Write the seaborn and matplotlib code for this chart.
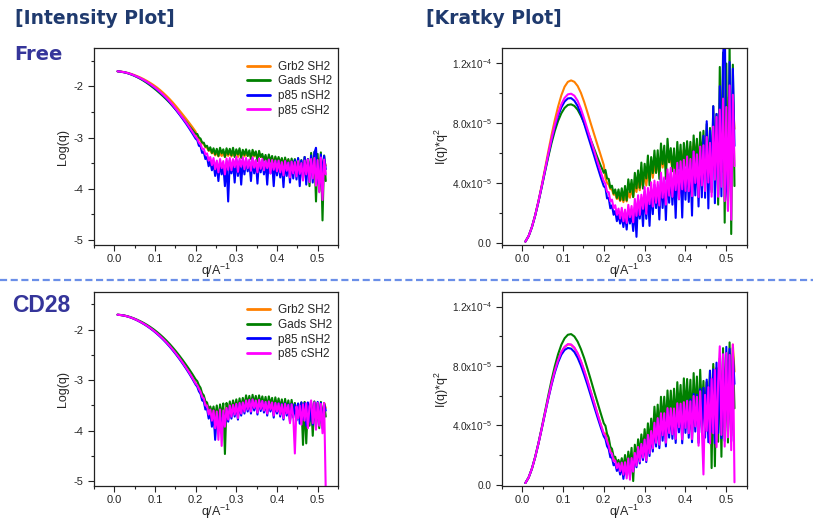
import numpy as np
import pandas as pd
import seaborn as sns
import matplotlib.pyplot as plt
from matplotlib.lines import Line2D
from matplotlib.ticker import MultipleLocator, FixedLocator, FixedFormatter

sns.set_style("ticks")
plt.rcParams['font.family'] = ['Liberation Sans', 'DejaVu Sans']
plt.rcParams['mathtext.fontset'] = 'custom'
plt.rcParams['mathtext.rm'] = 'Liberation Sans'
plt.rcParams['mathtext.it'] = 'Liberation Sans:italic'
plt.rcParams['mathtext.bf'] = 'Liberation Sans:bold'
plt.rcParams['mathtext.default'] = 'regular'
plt.rcParams['axes.unicode_minus'] = False

samples = ['Grb2 SH2', 'Gads SH2', 'p85 nSH2', 'p85 cSH2']
colors = ['#ff8000', '#008000', '#0000ff', '#ff00ff']

# q sampling (1/A): coarse on the smooth part, finer on the noisy tail
q_low = np.round(np.arange(0.008, 0.2001, 0.008), 3)
q_high = np.round(np.arange(0.204, 0.5201, 0.004), 3)
q = np.concatenate([q_low, q_high])

#  log10 I(q), free SH2 domains
free_grb2 = [-1.705, -1.711, -1.720, -1.734, -1.752, -1.774, -1.799, -1.826, -1.857, -1.892,
             -1.930, -1.971, -2.016, -2.067, -2.123, -2.183, -2.247, -2.316, -2.390, -2.468,
             -2.548, -2.628, -2.710, -2.795, -2.885,
             -2.98, -3.03, -3.06, -3.11, -3.13, -3.19, -3.20, -3.26, -3.25, -3.31,
             -3.28, -3.35, -3.29, -3.37, -3.30, -3.36, -3.29, -3.38, -3.30, -3.36,
             -3.29, -3.37, -3.30, -3.36, -3.28, -3.38, -3.30, -3.35, -3.29, -3.37,
             -3.30, -3.36, -3.31, -3.38, -3.30, -3.37, -3.32, -3.39, -3.31, -3.38,
             -3.37, -3.44, -3.38, -3.46, -3.37, -3.47, -3.39, -3.46, -3.40, -3.48,
             -3.41, -3.49, -3.42, -3.51, -3.42, -3.50, -3.44, -3.53, -3.45, -3.52,
             -3.46, -3.55, -3.47, -3.57, -3.48, -3.60, -3.47, -3.58, -3.49, -3.63,
             -3.40, -3.58, -3.42, -3.62, -3.41, -3.65, -3.38, -3.60, -3.44, -3.55]
free_gads = [-1.705, -1.713, -1.724, -1.740, -1.762, -1.788, -1.818, -1.852, -1.890, -1.932,
             -1.978, -2.027, -2.079, -2.134, -2.192, -2.253, -2.318, -2.388, -2.460, -2.535,
             -2.612, -2.690, -2.770, -2.850, -2.930,
             -2.93, -3.00, -3.02, -3.10, -3.10, -3.18, -3.16, -3.25, -3.19, -3.30,
             -3.21, -3.33, -3.22, -3.36, -3.20, -3.31, -3.23, -3.38, -3.21, -3.33,
             -3.22, -3.35, -3.20, -3.38, -3.23, -3.33, -3.21, -3.40, -3.24, -3.34,
             -3.23, -3.36, -3.25, -3.42, -3.24, -3.35, -3.27, -3.46, -3.26, -3.38,
             -3.32, -3.45, -3.34, -3.52, -3.33, -3.47, -3.36, -3.55, -3.37, -3.49,
             -3.38, -3.52, -3.40, -3.58, -3.39, -3.54, -3.42, -3.62, -3.41, -3.56,
             -3.42, -3.60, -3.41, -3.68, -3.44, -3.80, -3.38, -3.66, -3.42, -3.95,
             -3.30, -3.70, -3.28, -4.25, -3.32, -4.05, -3.29, -4.62, -3.35, -3.85]
free_p85n = [-1.705, -1.713, -1.723, -1.739, -1.760, -1.785, -1.813, -1.844, -1.879, -1.918,
             -1.961, -2.008, -2.059, -2.114, -2.173, -2.237, -2.306, -2.382, -2.463, -2.548,
             -2.634, -2.723, -2.818, -2.918, -3.022,
             -3.05, -3.16, -3.17, -3.30, -3.28, -3.42, -3.38, -3.56, -3.46, -3.64,
             -3.50, -3.75, -3.52, -3.85, -3.48, -3.72, -3.55, -3.95, -3.50, -4.25,
             -3.44, -3.70, -3.48, -3.88, -3.42, -3.75, -3.46, -3.92, -3.44, -3.72,
             -3.43, -3.66, -3.47, -3.85, -3.41, -3.70, -3.45, -3.90, -3.44, -3.68,
             -3.45, -3.72, -3.48, -3.92, -3.44, -3.70, -3.47, -3.95, -3.46, -3.74,
             -3.47, -3.78, -3.50, -3.97, -3.46, -3.75, -3.49, -3.88, -3.47, -3.80,
             -3.44, -3.82, -3.40, -3.95, -3.45, -3.78, -3.38, -3.92, -3.42, -3.85,
             -3.35, -3.88, -3.30, -3.20, -3.80, -3.95, -3.33, -3.75, -3.36, -3.62]
free_p85c = [-1.705, -1.712, -1.722, -1.737, -1.757, -1.781, -1.808, -1.838, -1.872, -1.910,
             -1.952, -1.998, -2.048, -2.102, -2.160, -2.222, -2.290, -2.365, -2.445, -2.528,
             -2.612, -2.698, -2.790, -2.885, -2.985,
             -3.02, -3.10, -3.12, -3.22, -3.22, -3.33, -3.31, -3.45, -3.38, -3.54,
             -3.40, -3.62, -3.45, -3.68, -3.42, -3.60, -3.46, -3.72, -3.41, -3.63,
             -3.40, -3.64, -3.42, -3.58, -3.38, -3.67, -3.41, -3.57, -3.39, -3.62,
             -3.40, -3.60, -3.43, -3.65, -3.39, -3.59, -3.44, -3.68, -3.41, -3.61,
             -3.42, -3.64, -3.45, -3.60, -3.43, -3.70, -3.44, -3.63, -3.45, -3.66,
             -3.45, -3.68, -3.48, -3.74, -3.46, -3.65, -3.49, -3.78, -3.47, -3.70,
             -3.48, -3.76, -3.46, -3.71, -3.50, -3.84, -3.45, -3.72, -3.43, -3.87,
             -3.42, -3.80, -3.40, -3.94, -3.44, -4.07, -3.39, -4.22, -3.43, -3.72]

#  log10 I(q), SH2 domains with CD28 peptide
cd28_grb2 = [-1.705, -1.712, -1.722, -1.738, -1.759, -1.784, -1.813, -1.846, -1.882, -1.922,
             -1.966, -2.014, -2.067, -2.123, -2.184, -2.250, -2.321, -2.397, -2.478, -2.563,
             -2.653, -2.747, -2.847, -2.953, -3.066,
             -3.08, -3.16, -3.21, -3.31, -3.34, -3.47, -3.48, -3.64, -3.55, -3.74,
             -3.57, -3.88, -3.58, -3.95, -3.55, -3.82, -3.56, -3.85, -3.52, -3.74,
             -3.47, -3.68, -3.46, -3.64, -3.44, -3.70, -3.42, -3.62, -3.41, -3.58,
             -3.37, -3.55, -3.36, -3.58, -3.35, -3.52, -3.37, -3.60, -3.36, -3.54,
             -3.38, -3.57, -3.40, -3.62, -3.39, -3.55, -3.41, -3.66, -3.42, -3.58,
             -3.43, -3.64, -3.45, -3.70, -3.44, -3.62, -3.46, -3.78, -3.45, -3.66,
             -3.48, -3.72, -3.47, -3.78, -3.45, -3.70, -3.44, -3.82, -3.46, -3.75,
             -3.46, -3.80, -3.45, -3.88, -3.47, -3.82, -3.46, -3.90, -3.45, -3.55]
cd28_gads = [-1.705, -1.711, -1.720, -1.735, -1.754, -1.777, -1.804, -1.834, -1.867, -1.904,
             -1.945, -1.990, -2.040, -2.094, -2.152, -2.215, -2.283, -2.356, -2.433, -2.515,
             -2.600, -2.690, -2.782, -2.880, -2.985,
             -3.02, -3.10, -3.15, -3.26, -3.30, -3.42, -3.44, -3.58, -3.52, -3.66,
             -3.52, -3.75, -3.50, -3.80, -3.48, -3.72, -3.46, -4.46, -3.45, -3.70,
             -3.42, -3.62, -3.40, -3.58, -3.38, -3.60, -3.36, -3.55, -3.35, -3.52,
             -3.30, -3.48, -3.31, -3.52, -3.29, -3.46, -3.31, -3.50, -3.30, -3.47,
             -3.32, -3.50, -3.33, -3.54, -3.32, -3.48, -3.35, -3.56, -3.34, -3.52,
             -3.36, -3.55, -3.38, -3.62, -3.37, -3.58, -3.40, -3.66, -3.39, -3.60,
             -3.45, -3.65, -3.47, -3.72, -3.44, -4.28, -3.43, -4.25, -3.46, -3.90,
             -3.44, -4.10, -3.42, -3.80, -3.45, -3.95, -3.43, -3.85, -3.46, -3.72]
cd28_p85n = [-1.705, -1.712, -1.723, -1.739, -1.760, -1.786, -1.816, -1.850, -1.887, -1.928,
             -1.973, -2.022, -2.076, -2.134, -2.196, -2.263, -2.335, -2.412, -2.494, -2.580,
             -2.671, -2.766, -2.867, -2.974, -3.088,
             -3.13, -3.22, -3.27, -3.40, -3.42, -3.58, -3.56, -3.76, -3.64, -3.92,
             -3.66, -4.18, -3.70, -3.98, -3.62, -4.05, -3.64, -3.90, -3.58, -3.82,
             -3.52, -3.76, -3.50, -3.72, -3.48, -3.78, -3.46, -3.70, -3.45, -3.66,
             -3.42, -3.62, -3.40, -3.66, -3.39, -3.60, -3.41, -3.68, -3.40, -3.61,
             -3.42, -3.64, -3.44, -3.70, -3.43, -3.62, -3.45, -3.74, -3.46, -3.66,
             -3.46, -3.72, -3.47, -3.78, -3.46, -3.70, -3.48, -3.82, -3.47, -3.74,
             -3.48, -3.80, -3.46, -3.86, -3.44, -3.78, -3.45, -3.90, -3.44, -3.82,
             -3.46, -3.88, -3.44, -3.92, -3.43, -3.85, -3.45, -3.95, -3.48, -3.60]
cd28_p85c = [-1.705, -1.712, -1.722, -1.738, -1.758, -1.783, -1.812, -1.845, -1.881, -1.921,
             -1.965, -2.013, -2.066, -2.122, -2.183, -2.249, -2.320, -2.396, -2.477, -2.562,
             -2.652, -2.746, -2.846, -2.952, -3.065,
             -3.10, -3.17, -3.23, -3.33, -3.36, -3.50, -3.50, -3.68, -3.58, -3.80,
             -3.60, -3.95, -3.62, -4.18, -3.58, -4.30, -3.60, -3.92, -3.55, -3.78,
             -3.50, -3.72, -3.49, -3.68, -3.47, -3.75, -3.45, -3.66, -3.44, -3.62,
             -3.40, -3.58, -3.39, -3.62, -3.38, -3.55, -3.40, -3.64, -3.39, -3.57,
             -3.41, -3.60, -3.43, -3.66, -3.42, -3.58, -3.44, -3.70, -3.45, -3.62,
             -3.46, -3.68, -3.48, -3.75, -3.47, -3.66, -3.49, -3.85, -3.48, -3.70,
             -4.45, -3.52, -3.75, -3.50, -3.88, -3.48, -3.80, -3.46, -3.95, -3.52,
             -3.40, -3.85, -3.44, -3.98, -3.45, -3.90, -3.47, -4.05, -3.45, -5.20]


def make_frame(series):
    parts = []
    for name, vals in zip(samples, series):
        assert len(vals) == len(q), (name, len(vals))
        parts.append(pd.DataFrame({'q': q, 'logI': vals, 'sample': name}))
    df = pd.concat(parts, ignore_index=True)
    df['kratky'] = 10 ** df['logI'] * df['q'] ** 2
    return df


free_df = make_frame([free_grb2, free_gads, free_p85n, free_p85c])
cd28_df = make_frame([cd28_grb2, cd28_gads, cd28_p85n, cd28_p85c])

fig = plt.figure(figsize=(8.13, 5.21), dpi=100)

bottoms = [0.5298, 0.0665]
heights = [0.378, 0.3736]
kr_ticks = [0, 4e-5, 8e-5, 1.2e-4]
kr_labels = ['0.0', '4.0x10$^{-5}$', '8.0x10$^{-5}$', '1.2x10$^{-4}$']

for row, df in enumerate([free_df, cd28_df]):
    ax_i = fig.add_axes([0.1156, bottoms[row], 0.3001, heights[row]])
    ax_k = fig.add_axes([0.6171, bottoms[row], 0.3014, heights[row]])

    sns.lineplot(data=df, x='q', y='logI', hue='sample', hue_order=samples,
                 palette=colors, estimator=None, sort=False, lw=1.5,
                 legend=False, ax=ax_i)
    sns.lineplot(data=df, x='q', y='kratky', hue='sample', hue_order=samples,
                 palette=colors, estimator=None, sort=False, lw=1.5,
                 legend=False, ax=ax_k)

    ax_i.set_ylim(-5.1, -1.25)
    ax_i.yaxis.set_major_locator(MultipleLocator(1))
    ax_i.yaxis.set_minor_locator(MultipleLocator(0.5))
    ax_i.set_ylabel('Log(q)', fontsize=9, labelpad=3)

    ax_k.set_ylim(-1e-6, 1.3e-4)
    ax_k.yaxis.set_major_locator(FixedLocator(kr_ticks))
    ax_k.yaxis.set_major_formatter(FixedFormatter(kr_labels))
    ax_k.yaxis.set_minor_locator(MultipleLocator(2e-5))
    ax_k.set_ylabel('I(q)*q$^2$', fontsize=9, labelpad=1)

    for ax in (ax_i, ax_k):
        ax.set_xlim(-0.05, 0.55)
        ax.xaxis.set_major_locator(MultipleLocator(0.1))
        ax.xaxis.set_minor_locator(MultipleLocator(0.05))
        ax.tick_params(which='both', direction='out', top=False, right=False,
                       labelsize=8, width=0.8, color='#222222')
        ax.tick_params(which='major', length=4)
        ax.tick_params(which='minor', length=2.5)
        ax.tick_params(axis='x', pad=2.5)
        for s in ax.spines.values():
            s.set_visible(True)
            s.set_linewidth(0.9)
            s.set_color('#222222')
        ax.set_xlabel('q/A$^{-1}$', fontsize=9, labelpad=-1.5)
    ax_k.tick_params(axis='y', labelsize=7.2, pad=3)

    leg = ax_i.legend(ax_i.lines[:4], samples, loc='upper left',
                      bbox_to_anchor=(0.626, 0.935), frameon=False, fontsize=8.5,
                      borderpad=0, borderaxespad=0, handlelength=1.95,
                      handletextpad=0.7, labelspacing=0.22)
    for h in leg.legend_handles:
        h.set_linewidth(2)

# titles and panel labels
fig.text(15 / 813, 1 - 18 / 521, '[Intensity Plot]', fontsize=13.5, fontweight='bold',
         color='#1f3a6e', family='DejaVu Sans', va='center')
fig.text(426 / 813, 1 - 18 / 521, '[Kratky Plot]', fontsize=13.5, fontweight='bold',
         color='#1f3a6e', family='DejaVu Sans', va='center')
fig.text(14 / 813, 1 - 54 / 521, 'Free', fontsize=14, fontweight='bold',
         color='#35359a', family='DejaVu Sans', va='center')
fig.text(12 / 813, 1 - 305 / 521, 'CD28', fontsize=16.5, fontweight='bold',
         color='#35359a', family='Liberation Sans', va='center')

fig.add_artist(Line2D([0, 1], [1 - 280 / 521] * 2, transform=fig.transFigure,
                      color='#6a8fe8', lw=1.6, ls=(0, (3.2, 1.6))))

fig.savefig('out.png', dpi=100)
